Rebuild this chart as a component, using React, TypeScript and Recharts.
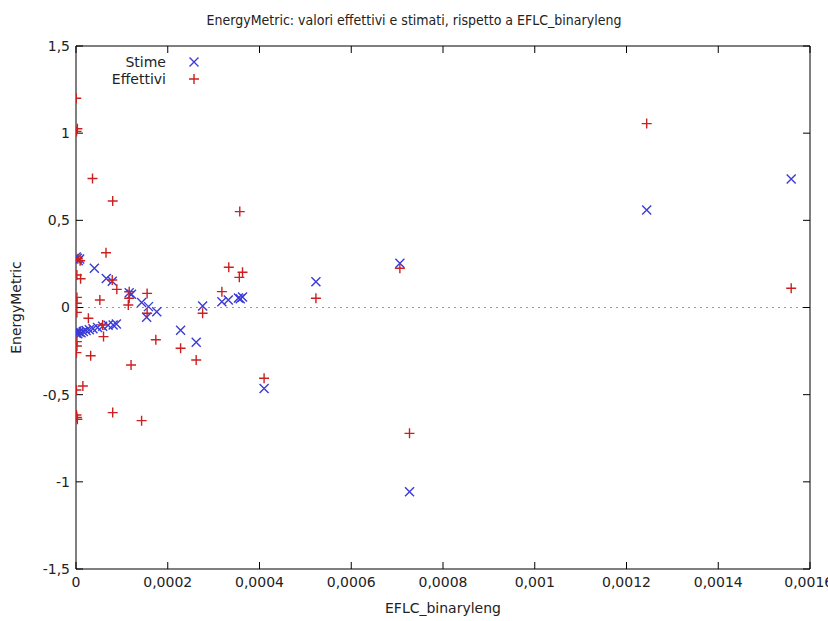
import React from 'react';
import { ScatterChart, Scatter, XAxis, YAxis, ReferenceLine, Legend } from 'recharts';

const title = 'EnergyMetric: valori effettivi e stimati, rispetto a EFLC_binaryleng';
const xLabel = 'EFLC_binaryleng';
const yLabel = 'EnergyMetric';
const seriesNames = ['Stime', 'Effettivi'];

const xTicks = [0, 0.0002, 0.0004, 0.0006, 0.0008, 0.001, 0.0012, 0.0014, 0.0016];
const yTicks = [-1.5, -1, -0.5, 0, 0.5, 1, 1.5];

const stimeX = [
  0.0000005, 0.000003, 0.000008, 0.000005, 0.00004, 0.000066, 0.000079, 0.000116, 0.000121,
  0.000143, 0.000158, 0.000154, 0.000176, 0.000228, 0.000262, 0.000276, 0.000318, 0.000332,
  0.000354, 0.000358, 0.000363, 0.00041, 0.000523, 0.000706, 0.000727, 0.001244, 0.001559,
  0.0000005, 0.000002, 0.000004, 0.000007, 0.000011, 0.000016, 0.000022, 0.000029, 0.000037,
  0.000047, 0.000058, 0.00007, 0.000081, 0.000088,
];
const stimeY = [
  0.29, 0.283, 0.278, 0.268, 0.225, 0.167, 0.15, 0.085, 0.076,
  0.028, 0.005, -0.056, -0.024, -0.13, -0.2, 0.009, 0.033, 0.043,
  0.055, 0.05, 0.06, -0.464, 0.148, 0.254, -1.057, 0.559, 0.737,
  -0.148, -0.135, -0.15, -0.14, -0.145, -0.138, -0.132, -0.127, -0.122,
  -0.115, -0.108, -0.102, -0.1, -0.095,
];

const effettiviX = [
  0.0000005, 0.000003, 0.0000012, 0.000036, 0.00008, 0.0000654, 0.000004, 0.000009, 0.000002,
  0.00001, 0.000079, 0.000089, 0.000116, 0.000116, 0.000114, 0.000155, 0.000155, 0.000052,
  0.000002, 0.000002, 0.000002, 0.000027, 0.000058, 0.00006, 0.000002, 0.000002, 0.000001,
  0.000032, 0.00012, 0.000174, 0.000228, 0.000262, 0.000276, 0.000001, 0.000015, 0.000001,
  0.000003, 0.000002, 0.00008, 0.000143, 0.000357, 0.000333, 0.000363, 0.000356, 0.000318,
  0.00041, 0.000523, 0.000706, 0.000727, 0.001244, 0.001559,
];
const effettiviY = [
  1.2, 1.025, 1.01, 0.74, 0.611, 0.314, 0.28, 0.268, 0.186,
  0.165, 0.158, 0.104, 0.09, 0.053, 0.014, 0.081, -0.033, 0.043,
  0.058, 0.024, -0.028, -0.062, -0.1, -0.167, -0.196, -0.221, -0.259,
  -0.277, -0.33, -0.185, -0.234, -0.301, -0.033, -0.473, -0.45, -0.617,
  -0.641, -0.63, -0.603, -0.649, 0.55, 0.231, 0.202, 0.173, 0.091,
  -0.406, 0.053, 0.225, -0.722, 1.055, 0.11,
];

const BLUE = '#3b3bd6';
const RED = '#cc2020';
const FONT = '"DejaVu Sans", sans-serif';
const TITLE_FONT = '"DejaVu Sans Condensed", "DejaVu Sans", sans-serif';
const TEXT = '#222';
const FS = 14;

const stimeData = stimeX.map((x, i) => ({ x, y: stimeY[i] }));
const effettiviData = effettiviX.map((x, i) => ({ x, y: effettiviY[i] }));

const fmt = (v: number) => String(v).replace('.', ',');

const XMark = (props: any) => {
  const { cx, cy } = props;
  const r = 4.5;
  return (
    <path
      d={`M${cx - r},${cy - r}L${cx + r},${cy + r}M${cx - r},${cy + r}L${cx + r},${cy - r}`}
      stroke={BLUE}
      strokeWidth={1.4}
      fill="none"
    />
  );
};

const PlusMark = (props: any) => {
  const { cx, cy } = props;
  const r = 5;
  return (
    <path
      d={`M${cx - r},${cy}L${cx + r},${cy}M${cx},${cy - r}L${cx},${cy + r}`}
      stroke={RED}
      strokeWidth={1.4}
      fill="none"
    />
  );
};

const renderLegend = () => (
  <svg width={110} height={40} style={{ display: 'block' }}>
    <text x={66} y={15} textAnchor="end" fontFamily={FONT} fontSize={FS} fill={TEXT}>
      {seriesNames[0]}
    </text>
    <XMark cx={94} cy={10} />
    <text x={66} y={32} textAnchor="end" fontFamily={FONT} fontSize={FS} fill={TEXT}>
      {seriesNames[1]}
    </text>
    <PlusMark cx={94} cy={27} />
  </svg>
);

const tickStyle = { fontFamily: FONT, fontSize: FS, fill: TEXT };

export default function App() {
  return (
    <div style={{ position: 'absolute', left: 0, top: 0, background: '#fff' }}>
      <ScatterChart width={828} height={621} margin={{ top: 45, right: 17, bottom: 0, left: 0 }}>
        <XAxis
          xAxisId={0}
          type="number"
          dataKey="x"
          domain={[0, 0.0016]}
          ticks={xTicks}
          allowDataOverflow
          orientation="bottom"
          height={52}
          tickSize={-7}
          tickMargin={15}
          tickFormatter={fmt}
          tick={tickStyle}
          axisLine={{ stroke: '#000' }}
          tickLine={{ stroke: '#000' }}
          label={{
            content: (p: any) => {
              const vb = p.viewBox;
              return (
                <text x={vb.x + vb.width / 2} y={vb.y + 44} textAnchor="middle" fontFamily={FONT} fontSize={FS} fill={TEXT}>
                  {xLabel}
                </text>
              );
            },
          }}
        />
        <XAxis
          xAxisId="top"
          type="number"
          dataKey="x"
          domain={[0, 0.0016]}
          ticks={xTicks}
          allowDataOverflow
          orientation="top"
          height={1}
          tickSize={-7}
          tickFormatter={() => ''}
          axisLine={{ stroke: '#000' }}
          tickLine={{ stroke: '#000' }}
          label={{
            content: (p: any) => {
              const vb = p.viewBox;
              return (
                <text x={414} y={vb.y - 20} textAnchor="middle" fontFamily={TITLE_FONT} fontSize={FS} fill={TEXT}>
                  {title}
                </text>
              );
            },
          }}
        />
        <YAxis
          yAxisId={0}
          type="number"
          dataKey="y"
          domain={[-1.5, 1.5]}
          ticks={yTicks}
          allowDataOverflow
          orientation="left"
          width={76}
          tickSize={-7}
          tickMargin={13}
          tickFormatter={fmt}
          tick={tickStyle}
          axisLine={{ stroke: '#000' }}
          tickLine={{ stroke: '#000' }}
          label={{
            content: (p: any) => {
              const vb = p.viewBox;
              const cx = vb.x + 16;
              const cy = vb.y + vb.height / 2;
              return (
                <text
                  x={cx}
                  y={cy}
                  transform={`rotate(-90 ${cx} ${cy})`}
                  textAnchor="middle"
                  dominantBaseline="central"
                  fontFamily={FONT}
                  fontSize={FS}
                  fill={TEXT}
                >
                  {yLabel}
                </text>
              );
            },
          }}
        />
        <YAxis
          yAxisId="right"
          type="number"
          dataKey="y"
          domain={[-1.5, 1.5]}
          ticks={yTicks}
          allowDataOverflow
          orientation="right"
          width={1}
          tickSize={-7}
          tickFormatter={() => ''}
          axisLine={{ stroke: '#000' }}
          tickLine={{ stroke: '#000' }}
        />
        <ReferenceLine y={0} xAxisId={0} yAxisId={0} stroke="#9a9a9a" strokeDasharray="2 4" strokeWidth={1} />
        <Legend
          layout="vertical"
          align="center"
          verticalAlign="middle"
          content={renderLegend}
          wrapperStyle={{ left: 100, top: 52, width: 110, height: 40 }}
        />
        <Scatter
          name={seriesNames[0]}
          data={stimeData}
          xAxisId={0}
          yAxisId={0}
          shape={XMark}
          isAnimationActive={false}
        />
        <Scatter
          name={seriesNames[1]}
          data={effettiviData}
          xAxisId={0}
          yAxisId={0}
          shape={PlusMark}
          isAnimationActive={false}
        />
      </ScatterChart>
    </div>
  );
}
